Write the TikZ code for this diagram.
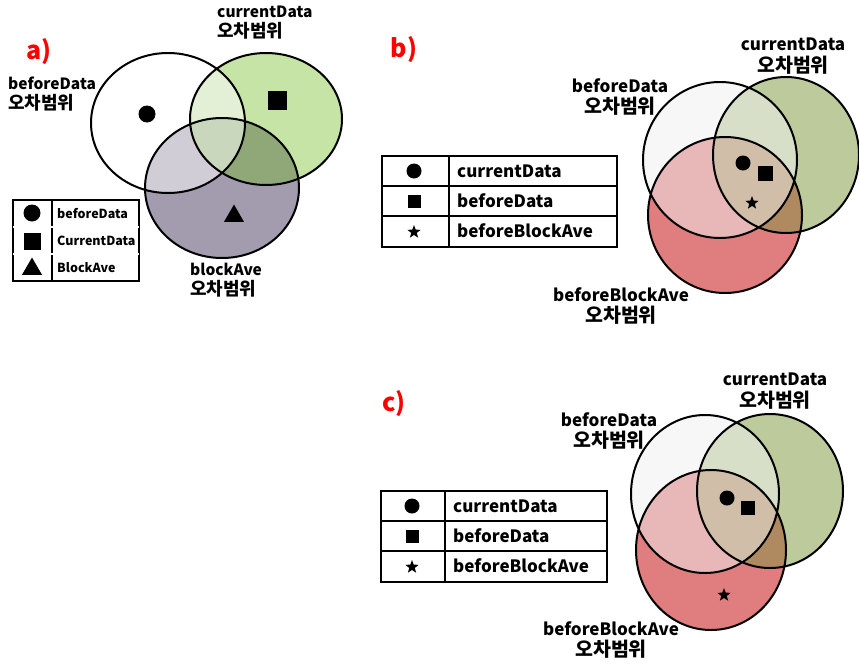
\documentclass[tikz,border=0pt]{standalone}
\usepackage{fontspec}
\setmainfont{Noto Sans CJK KR}
\usetikzlibrary{shapes.geometric}

\definecolor{aone}{RGB}{255,255,255}
\definecolor{atwo}{RGB}{198,228,165}
\definecolor{athree}{RGB}{163,155,174}
\definecolor{aab}{RGB}{227,240,214}
\definecolor{aac}{RGB}{209,205,215}
\definecolor{abc}{RGB}{144,168,120}
\definecolor{aabc}{RGB}{201,215,188}
\definecolor{bone}{RGB}{247,247,247}
\definecolor{btwo}{RGB}{189,202,155}
\definecolor{bthree}{RGB}{224,125,126}
\definecolor{bab}{RGB}{216,223,200}
\definecolor{bac}{RGB}{232,184,184}
\definecolor{bbc}{RGB}{175,138,96}
\definecolor{babc}{RGB}{209,190,168}

\newcommand{\kra}{\fontsize{18}{20}\selectfont}
\newcommand{\krb}{\fontsize{19.5}{21}\selectfont}

\tikzset{
  venn/.style={draw=black, line width=2pt},
  lbla/.style={font=\bfseries\fontsize{15.5}{17}\selectfont, inner sep=0pt, anchor=west, align=left},
  lblb/.style={font=\bfseries\fontsize{17}{18.5}\selectfont, inner sep=0pt, align=center},
  panel/.style={font=\bfseries\fontsize{25}{25}\selectfont, text=red, inner sep=0pt},
  keyline/.style={line width=1.8pt},
  keysep/.style={double, double distance=1.2pt, line width=0.7pt},
  keytxt/.style={anchor=west, font=\bfseries\fontsize{17}{18}\selectfont, inner sep=0pt},
  smalltxt/.style={anchor=west, font=\bfseries\fontsize{12.5}{13}\selectfont, inner sep=0pt},
  mdot/.style={circle, fill=black, inner sep=0pt, minimum size=#1},
  msq/.style={rectangle, fill=black, inner sep=0pt, minimum size=#1},
  mtri/.style={regular polygon, regular polygon sides=3, fill=black, inner sep=0pt, minimum size=#1},
  mstar/.style={star, star points=5, star point ratio=2.4, fill=black, inner sep=0pt, minimum size=#1},
}

% #1 colour prefix, #2 #3 #4 the three ellipses
\newcommand{\venn}[4]{%
  \fill[#1one] #2; \fill[#1two] #3; \fill[#1three] #4;
  \begin{scope} \clip #2; \fill[#1ab] #3; \fill[#1ac] #4; \end{scope}
  \begin{scope} \clip #3; \fill[#1bc] #4; \end{scope}
  \begin{scope} \clip #2; \clip #3; \fill[#1abc] #4; \end{scope}
  \draw[venn] #2 #3 #4;
}

\begin{document}
\begin{tikzpicture}[x=1pt, y=-1pt]
    \useasboundingbox (0,0) rectangle (859,664);

    % a)
    \venn{a}{(168,123) ellipse [x radius=77pt, y radius=70pt]}
            {(266,119) ellipse [x radius=76pt, y radius=66pt]}
            {(222,188) ellipse [x radius=77pt, y radius=70pt]}
    \node[panel] (pa) at (39,52) {a)};
    \node[lbla] (abefore) at (8,94) {beforeData\\[3pt]{\kra 오차범위}};
    \node[lbla] (acurrent) at (217,23) {currentData\\[3pt]{\kra 오차범위}};
    \node[lbla] (ablock) at (190,280) {blockAve\\[3pt]{\kra 오차범위}};
    \node[mdot=17pt] (adot) at (147,114) {};
    \node[msq=19pt] (asq) at (277,100) {};
    \node[mtri=23pt] (atri) at (234,216) {};

    \draw[keyline] (13,200) rectangle (139,281);
    \draw[keyline] (52,200) -- (52,281);
    \draw[keysep] (13,227) -- (139,227);
    \draw[keysep] (13,254) -- (139,254);
    \node[mdot=17pt] (akdot) at (32,213) {};
    \node[msq=17pt] (aksq) at (32,241) {};
    \node[mtri=23pt] (aktri) at (32,269) {};
    \node[smalltxt] (akt1) at (57,213.5) {beforeData};
    \node[smalltxt] (akt2) at (57,240.5) {CurrentData};
    \node[smalltxt] (akt3) at (57,267.5) {BlockAve};

    % b)
    \venn{b}{(720,160) ellipse [x radius=77pt, y radius=78pt]}
            {(786,155) ellipse [x radius=73pt, y radius=78pt]}
            {(725,215) ellipse [x radius=77pt, y radius=78pt]}
    \node[panel] (pb) at (404,50) {b)};
    \node[lblb] (bcurrent) at (793,56) {currentData\\[3pt]{\krb 오차범위}};
    \node[lblb] (bbefore) at (620,97) {beforeData\\[3pt]{\krb 오차범위}};
    \node[lblb] (bblock) at (621,306) {beforeBlockAve\\[3pt]{\krb 오차범위}};
    \node[mdot=15pt] (bdot) at (743,163) {};
    \node[msq=15pt] (bsq) at (765,173) {};
    \node[mstar=14pt] (bstar) at (752,203) {};

    \draw[keyline] (382,156) rectangle (617,247);
    \draw[keyline] (449,156) -- (449,247);
    \draw[keyline] (382,186) -- (617,186);
    \draw[keyline] (382,216) -- (617,216);
    \node[mdot=15pt] (bkdot) at (414,171) {};
    \node[msq=13pt] (bksq) at (414,201) {};
    \node[mstar=14pt] (bkstar) at (414,232) {};
    \node[keytxt] (bkt1) at (457,171) {currentData};
    \node[keytxt] (bkt2) at (457,201) {beforeData};
    \node[keytxt] (bkt3) at (457,231) {beforeBlockAve};

    % c)
    \venn{b}{(705,494) ellipse [x radius=74pt, y radius=79pt]}
            {(770,491) ellipse [x radius=73pt, y radius=77pt]}
            {(711,550) ellipse [x radius=75pt, y radius=80pt]}
    \node[panel] (pc) at (394,404) {c)};
    \node[lblb] (ccurrent) at (775,391) {currentData\\[3pt]{\krb 오차범위}};
    \node[lblb] (cbefore) at (609,431) {beforeData\\[3pt]{\krb 오차범위}};
    \node[lblb] (cblock) at (611,640) {beforeBlockAve\\[3pt]{\krb 오차범위}};
    \node[mdot=15pt] (cdot) at (727,498) {};
    \node[msq=14pt] (csq) at (748,508) {};
    \node[mstar=14pt] (cstar) at (724,595) {};

    \draw[keyline] (381,491) rectangle (607,582);
    \draw[keyline] (445,491) -- (445,582);
    \draw[keyline] (381,521) -- (607,521);
    \draw[keyline] (381,551) -- (607,551);
    \node[mdot=15pt] (ckdot) at (412,506) {};
    \node[msq=13pt] (cksq) at (412,536) {};
    \node[mstar=14pt] (ckstar) at (412,567) {};
    \node[keytxt] (ckt1) at (453,506) {currentData};
    \node[keytxt] (ckt2) at (453,536) {beforeData};
    \node[keytxt] (ckt3) at (453,566) {beforeBlockAve};
\end{tikzpicture}
\end{document}
